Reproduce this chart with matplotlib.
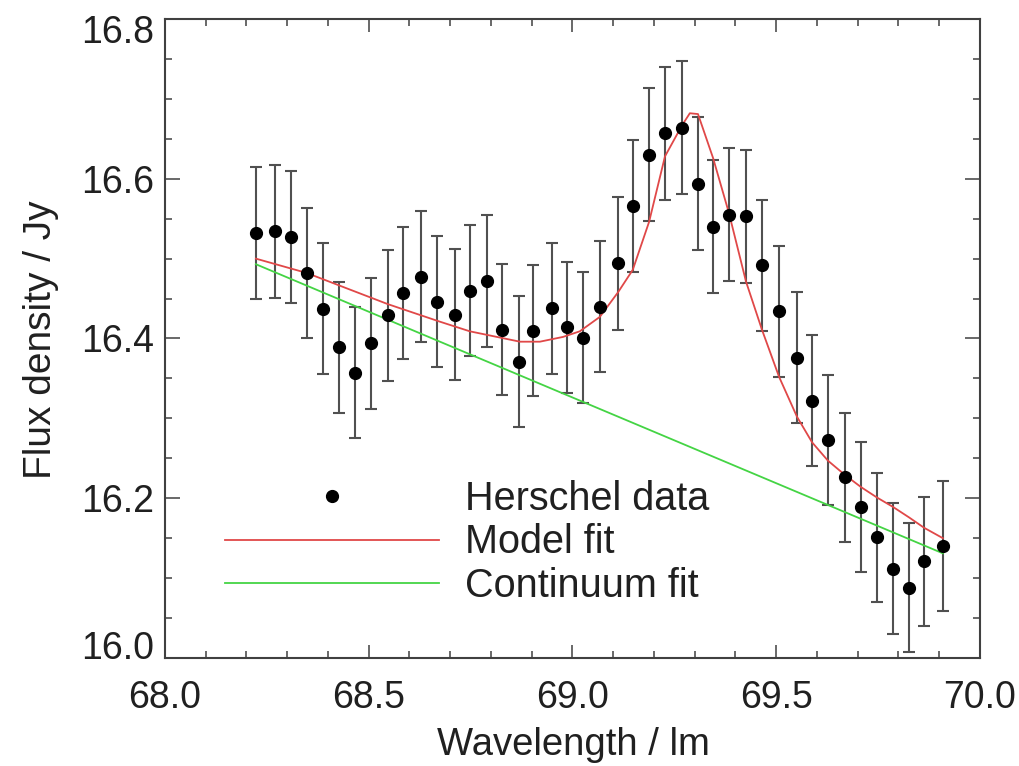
import matplotlib
matplotlib.use('Agg')
import matplotlib.pyplot as plt
import matplotlib.transforms as mtransforms
import numpy as np

matplotlib.rcParams['font.family'] = ['Liberation Sans', 'DejaVu Sans']

# Herschel data points
wavelength = [68.223, 68.270, 68.309, 68.348, 68.388, 68.427, 68.466, 68.506,
              68.547, 68.584, 68.628, 68.667, 68.712, 68.748, 68.790, 68.827,
              68.869, 68.903, 68.950, 68.987, 69.026, 69.067, 69.112, 69.148,
              69.188, 69.227, 69.269, 69.308, 69.345, 69.384, 69.426, 69.465,
              69.507, 69.551, 69.588, 69.627, 69.669, 69.708, 69.747, 69.787,
              69.826, 69.863, 69.909]
flux = [16.532, 16.534, 16.527, 16.482, 16.437, 16.389, 16.357, 16.394,
        16.429, 16.457, 16.477, 16.446, 16.430, 16.460, 16.472, 16.411,
        16.371, 16.410, 16.438, 16.414, 16.401, 16.440, 16.494, 16.566,
        16.630, 16.657, 16.664, 16.594, 16.540, 16.555, 16.553, 16.492,
        16.434, 16.376, 16.322, 16.273, 16.226, 16.189, 16.151, 16.112,
        16.088, 16.121, 16.140]
flux_err = [0.083, 0.083, 0.083, 0.082, 0.082, 0.082, 0.082, 0.082,
            0.082, 0.083, 0.082, 0.082, 0.082, 0.082, 0.083, 0.082,
            0.082, 0.082, 0.082, 0.082, 0.082, 0.082, 0.083, 0.083,
            0.083, 0.083, 0.083, 0.083, 0.083, 0.083, 0.083, 0.082,
            0.082, 0.082, 0.082, 0.081, 0.081, 0.081, 0.081, 0.082,
            0.081, 0.081, 0.081]

# model fit (red)
model_x = [68.223, 68.348, 68.547, 68.675, 68.748, 68.871, 68.920, 68.977,
           69.018, 69.067, 69.112, 69.148, 69.188, 69.227, 69.269, 69.288,
           69.308, 69.345, 69.384, 69.426, 69.465, 69.507, 69.551, 69.588,
           69.627, 69.669, 69.708, 69.747, 69.787, 69.826, 69.863, 69.909]
model_y = [16.500, 16.482, 16.443, 16.421, 16.409, 16.396, 16.396, 16.402,
           16.409, 16.427, 16.458, 16.486, 16.546, 16.628, 16.667, 16.682,
           16.681, 16.626, 16.557, 16.471, 16.411, 16.352, 16.302, 16.270,
           16.247, 16.229, 16.214, 16.201, 16.189, 16.176, 16.163, 16.150]

# continuum fit (green), straight line
cont_x = [68.223, 69.909]
cont_y = [16.493, 16.131]

fig = plt.figure(figsize=(10.19, 7.66), dpi=100)
ax = fig.add_axes([0.1619, 0.1410, 0.7998, 0.8342])

ax.errorbar(wavelength, flux, yerr=flux_err, fmt='none', ecolor='#505050',
            elinewidth=1.5, capsize=4, capthick=1.5, zorder=2)
ax.plot(wavelength, flux, 'o', color='black', markersize=8.5, zorder=4,
        label='Herschel data')
ax.plot(model_x, model_y, color='#e04848', lw=1.3, zorder=3, label='Model fit')
ax.plot(cont_x, cont_y, color='#44d444', lw=1.3, zorder=3, label='Continuum fit')

ax.set_xlim(68.0, 70.0)
ax.set_ylim(16.0, 16.8)
ax.set_xticks([68.0, 68.5, 69.0, 69.5, 70.0])
ax.set_xticks(np.arange(68.0, 70.01, 0.1), minor=True)
ax.set_yticks([16.0, 16.2, 16.4, 16.6, 16.8])
ax.set_yticks(np.arange(16.0, 16.81, 0.05), minor=True)
ax.set_xticklabels(['68.0', '68.5', '69.0', '69.5', '70.0'])
ax.set_yticklabels(['16.0', '16.2', '16.4', '16.6', '16.8'])

ax.tick_params(which='both', direction='in', top=True, right=True,
               color='#404040', width=1.1, labelsize=27, labelcolor='#202020')
ax.tick_params(axis='x', which='major', length=9.5, pad=15.5)
ax.tick_params(axis='y', which='major', length=10.5, pad=8)
ax.tick_params(which='minor', length=5)
for s in ax.spines.values():
    s.set_color('#404040')
    s.set_linewidth(1.5)

# end labels on the y axis sit inside the axis range
ylabels = ax.get_yticklabels()
ylabels[0].set_transform(ylabels[0].get_transform() +
                         mtransforms.ScaledTranslation(0, 13 / 100, fig.dpi_scale_trans))
ylabels[-1].set_transform(ylabels[-1].get_transform() +
                          mtransforms.ScaledTranslation(0, -10 / 100, fig.dpi_scale_trans))

fig.text(0.563, 0.027, 'Wavelength / lm', fontsize=27.5, color='#202020',
         ha='center', va='center')
fig.text(0.040, 0.556, 'Flux density / Jy', fontsize=28, color='#202020',
         ha='center', va='center', rotation=90)

leg = ax.legend(loc='lower left', bbox_to_anchor=(0.0736, 0.083), frameon=False,
                fontsize=28.5, handlelength=5.4, handletextpad=0.66,
                labelspacing=0.14, borderpad=0, borderaxespad=0)
for t in leg.get_texts():
    t.set_color('#202020')

fig.savefig('out.png', dpi=100)
